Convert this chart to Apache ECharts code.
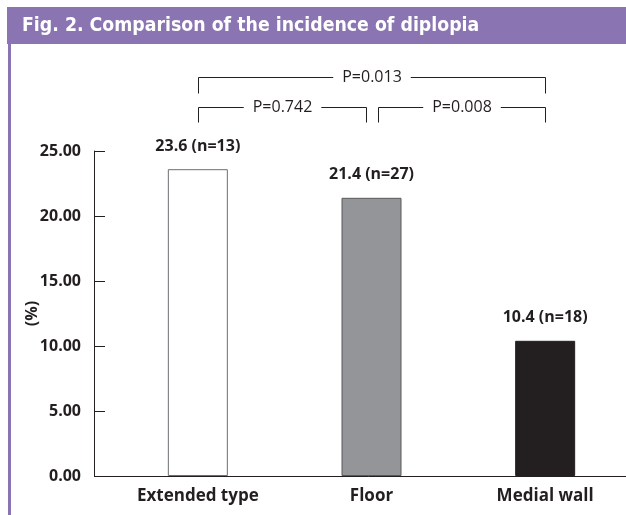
<!DOCTYPE html>
<html>
<head>
<meta charset="utf-8">
<script src="https://cdn.jsdelivr.net/npm/echarts@6/dist/echarts.min.js"></script>
<style>
  html, body { margin: 0; padding: 0; background: #fff; }
  #chart { width: 626px; height: 515px; }
</style>
</head>
<body>
<div id="chart"></div>
<script>
// data
const categories = ["Extended type", "Floor", "Medial wall"];
const incidence = [23.6, 21.4, 10.4]; // %
const patientCounts = [13, 27, 18];
const barColors = ["#ffffff", "#939598", "#231f20"];
const barBorders = ["#6d6e71", "#58595b", "#231f20"];
// pairwise comparisons: [from index, to index, p value, row]
const comparisons = [
  [0, 2, "0.013", 0],
  [0, 1, "0.742", 1],
  [1, 2, "0.008", 1],
];

const ink = "#231f20";
const purple = "#8a74b2";
const font = "'Open Sans'";

const chart = echarts.init(document.getElementById("chart"));

const option = {
  animation: false,
  backgroundColor: "#fff",
  grid: { left: 111, width: 521, top: 151, height: 325, outerBoundsMode: "none", containLabel: false },
  xAxis: {
    type: "category",
    data: categories,
    axisLine: { lineStyle: { color: ink, width: 1 } },
    axisTick: { show: false },
    axisLabel: { color: ink, fontFamily: "Open Sans", fontWeight: "bold", fontSize: 17, margin: 12 },
  },
  yAxis: {
    type: "value",
    min: 0,
    max: 25,
    interval: 5,
    offset: 17,
    name: "(%)",
    nameLocation: "middle",
    nameGap: 54,
    nameMoveOverlap: false,
    nameTextStyle: { color: ink, fontFamily: "Open Sans", fontWeight: "bold", fontSize: 16 },
    axisLine: { show: true, lineStyle: { color: ink, width: 1 } },
    axisTick: { show: true, inside: true, length: 11, lineStyle: { color: ink } },
    splitLine: { show: false },
    axisLabel: {
      color: ink, fontFamily: "Open Sans", fontWeight: "bold", fontSize: 16, margin: 13,
      formatter: (v) => v.toFixed(2),
    },
  },
  series: [
    {
      type: "bar",
      barWidth: 60,
      data: incidence.map((v, i) => ({
        value: v,
        itemStyle: { color: barColors[i], borderColor: barBorders[i], borderWidth: 1 },
      })),
      label: {
        show: true,
        position: "top",
        distance: 15,
        color: ink,
        fontFamily: "Open Sans",
        fontWeight: "bold",
        fontSize: 16,
        formatter: (p) => p.value + " (n=" + patientCounts[p.dataIndex] + ")",
      },
    },
  ],
};
chart.setOption(option);

// frame + title band + significance brackets
const rowY = [77, 107];
const legLen = [16, 15];
const graphics = [
  { type: "rect", shape: { x: 7, y: 7, width: 619, height: 37 }, style: { fill: purple }, z: 10 },
  { type: "rect", shape: { x: 8, y: 44, width: 3, height: 471 }, style: { fill: purple }, z: 10 },
  {
    type: "text", x: 22, y: 26, z: 11, scaleX: 0.965,
    style: {
      text: "Fig. 2. Comparison of the incidence of diplopia",
      fill: "#fff", font: "bold 20px 'DejaVu Sans Condensed', sans-serif",
      verticalAlign: "middle",
    },
  },
  // close the corner between the offset y axis and the x axis
  { type: "line", shape: { x1: 94, y1: 476.5, x2: 111, y2: 476.5 }, style: { stroke: ink, lineWidth: 1 }, z: 10 },
];

comparisons.forEach(([a, b, p, row]) => {
  let x1 = chart.convertToPixel({ xAxisIndex: 0 }, categories[a]);
  let x2 = chart.convertToPixel({ xAxisIndex: 0 }, categories[b]);
  if (row === 1 && a === 1) x1 += 6;
  if (row === 1 && b === 1) x2 -= 6;
  x1 = Math.round(x1) + 0.5;
  x2 = Math.round(x2) + 0.5;
  const y = rowY[row] + 0.5;
  graphics.push({
    type: "polyline",
    shape: { points: [[x1, y + legLen[row]], [x1, y], [x2, y], [x2, y + legLen[row]]] },
    style: { stroke: ink, lineWidth: 1, fill: null },
    z: 10,
  });
  graphics.push({
    type: "text",
    x: (x1 + x2) / 2,
    y: y,
    z: 11,
    style: {
      text: "P=" + p,
      fill: ink,
      font: "16px " + font,
      align: "center",
      verticalAlign: "middle",
      backgroundColor: "#fff",
      padding: [0, 9],
    },
  });
});

chart.setOption({ graphic: graphics });
</script>
</body>
</html>
